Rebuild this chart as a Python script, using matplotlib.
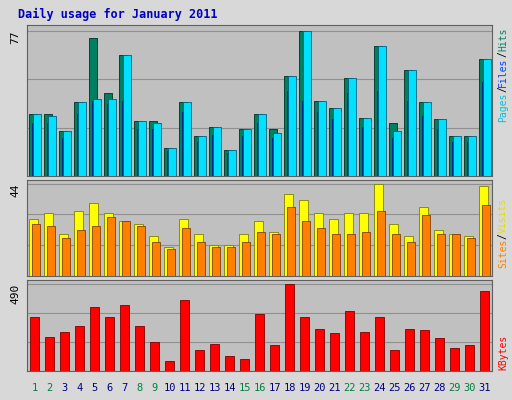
import matplotlib
matplotlib.use("Agg")
import matplotlib.pyplot as plt
import numpy as np

days = list(range(1, 32))
weekend = [1, 2, 8, 9, 15, 16, 22, 23, 29, 30]
hits = [33,33,24,39,73,44,64,29,29,15,39,21,26,14,25,33,25,53,77,40,36,52,31,69,28,56,39,30,21,21,62]
files = [28,28,20,33,40,38,40,25,25,13,34,18,22,12,21,28,20,45,40,34,30,44,26,45,20,40,32,25,18,18,50]
pages = [33,32,24,39,41,41,64,29,28,15,39,21,26,14,25,33,23,53,77,40,36,52,31,69,24,56,39,30,21,21,62]
visits = [27,30,20,31,35,30,26,25,19,14,27,20,15,15,20,26,21,39,36,30,27,30,30,44,25,19,33,22,20,19,43]
sites = [25,24,18,22,24,28,26,24,16,13,23,16,14,14,16,21,20,33,26,23,20,20,21,31,20,16,29,20,20,18,34]
kbytes = [300,190,219,254,357,300,369,254,161,58,398,115,150,86,69,317,144,490,300,236,213,334,219,300,115,236,231,184,127,144,450]

W, H = 512, 400
fig = plt.figure(figsize=(W/100, H/100), dpi=100, facecolor="#D8D8D8")
mono = "DejaVu Sans Mono"
fig.text(18/W, 1-14/H, "Daily usage for January 2011", color="#0000C0",
         fontfamily=mono, fontweight="bold", fontsize=8.5, va="center")

def ax_at(top, bot):
    return fig.add_axes([27/W, 1-bot/H, 465/W, (bot-top)/H], facecolor="#C0C0C0")

x = np.array(days)

def style(ax, vmax, label):
    ax.set_xlim(0.5, 31.5)
    ax.set_ylim(0, vmax*1.04)
    ax.set_xticks([]); ax.set_yticks([])
    for y in np.linspace(0, vmax, 4)[1:]:
        ax.axhline(y, color="#909090", lw=0.8, zorder=0)
    for s in ax.spines.values():
        s.set_color("#606060")
    ax.text(-0.025, 1-0.04/1.04, str(label), transform=ax.transAxes, rotation=90,
            ha="center", va="top", fontfamily=mono, fontsize=8)

ax1 = ax_at(25, 176)
ax1.bar(x-0.12, hits, 0.55, color="#008060", edgecolor="#003020", lw=0.6, zorder=2)
ax1.bar(x+0.05, files, 0.5, color="#0040FF", edgecolor="#002080", lw=0.6, zorder=3)
ax1.bar(x+0.17, pages, 0.5, color="#00E0FF", edgecolor="#006080", lw=0.6, zorder=4)
style(ax1, 77, 77)

ax2 = ax_at(180, 276)
ax2.bar(x-0.08, visits, 0.6, color="#FFFF00", edgecolor="#808000", lw=0.6, zorder=2)
ax2.bar(x+0.12, sites, 0.55, color="#FF8000", edgecolor="#804000", lw=0.6, zorder=3)
style(ax2, 44, 44)

ax3 = ax_at(280, 371)
ax3.bar(x, kbytes, 0.6, color="#FF0000", edgecolor="#800000", lw=0.6, zorder=2)
style(ax3, 490, 490)

for d in days:
    fig.text((27 + (d-0.5)/31*465)/W, 1-388/H, str(d), ha="center", va="center",
             fontfamily=mono, fontsize=7.5, color="#008040" if d in weekend else "#000080")

FS = 7
CW = FS*100/72*0.602  # px per char

def side(top_px, parts):
    # texts read bottom to top; the last part ends at top_px
    total = sum(len(t) for t, _ in parts) * CW
    y = top_px + total  # bottom pixel
    for t, c in parts:
        fig.text(503/W, 1-y/H, t, rotation=90, ha="center", va="bottom",
                 color=c, fontfamily=mono, fontsize=FS)
        y -= len(t)*CW
side(28, [("Pages", "#00C0E0"), ("/", "#000000"), ("Files", "#0040FF"), ("/", "#000000"), ("Hits", "#008060")])
side(198, [("Sites", "#FF8000"), ("/", "#000000"), ("Visits", "#E0E000")])
side(335, [("KBytes", "#FF0000")])

fig.savefig("out.png", dpi=100, facecolor=fig.get_facecolor())
